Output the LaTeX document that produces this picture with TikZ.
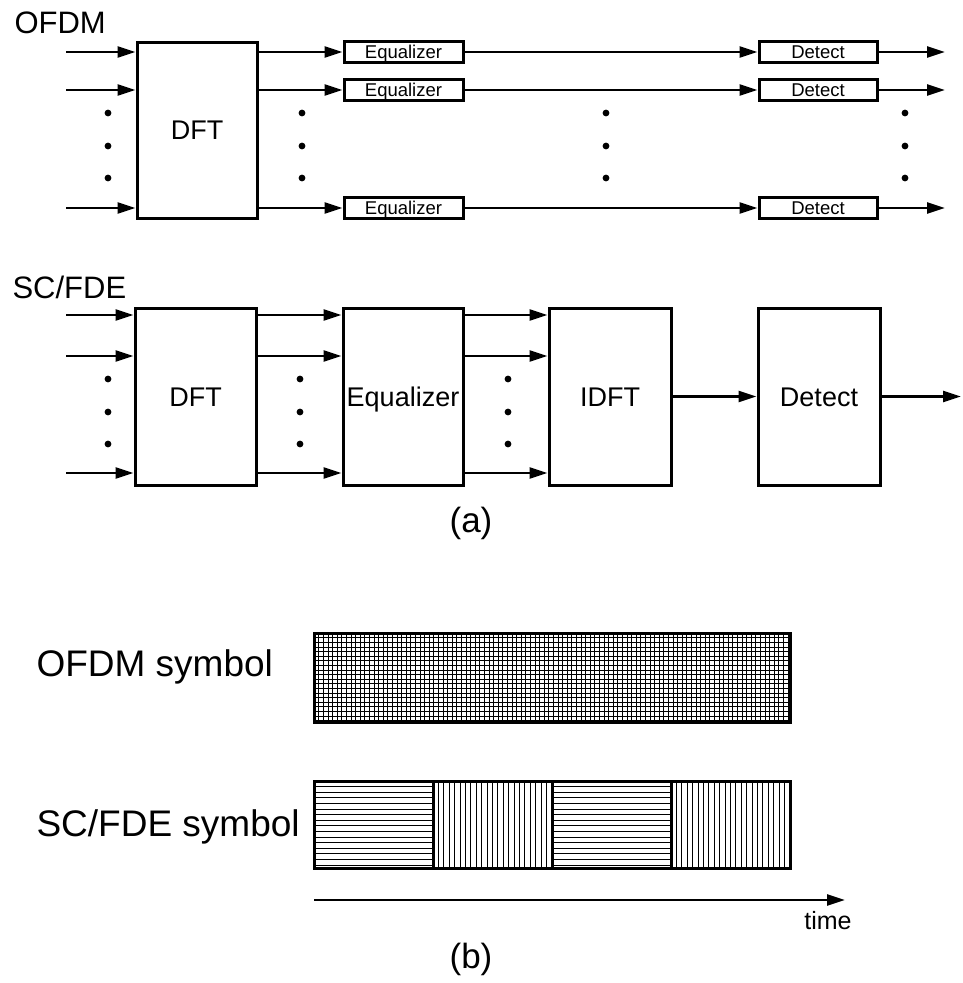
\documentclass[tikz,border=0pt]{standalone}
\usepackage{fontspec}
\setmainfont{Liberation Sans}
\usetikzlibrary{arrows.meta}

\begin{document}
\begin{tikzpicture}[x=1pt, y=-1pt]
  \tikzset{
    block/.style={draw, line width=3pt, inner sep=0pt,
      minimum width=120pt, minimum height=177pt,
      text height=19.3pt, text depth=0pt, font=\fontsize{27}{32}\selectfont},
    tag/.style={draw, line width=3pt, inner sep=0pt,
      minimum width=119pt, minimum height=21pt,
      text height=13.2pt, text depth=0pt, font=\fontsize{18.5}{22}\selectfont},
    sig/.style={line width=2.5pt, -{Triangle[length=18pt, width=11pt]}},
    title/.style={anchor=base west, font=\fontsize{31}{36}\selectfont},
    caption/.style={anchor=base, font=\fontsize{35}{40}\selectfont},
    legend/.style={anchor=base west, font=\fontsize{37}{42}\selectfont},
    symbol/.style={draw, line width=3pt, inner sep=0pt, minimum height=87pt},
    hzl/.style={path picture={
        \foreach \k in {1,...,16}
          \draw[line width=0.7pt]
            ([yshift=-\k*5.6pt]path picture bounding box.north west) --
            ([yshift=-\k*5.6pt]path picture bounding box.north east);
      }},
    vtl/.style={path picture={
        \foreach \k in {1,...,22}
          \draw[line width=0.7pt]
            ([xshift=\k*5.4pt]path picture bounding box.north west) --
            ([xshift=\k*5.4pt]path picture bounding box.south west);
      }},
    grid/.style={path picture={
        \foreach \k in {1,...,19}
          \draw[line width=0.6pt]
            ([yshift=-\k*4.6pt]path picture bounding box.north west) --
            ([yshift=-\k*4.6pt]path picture bounding box.north east);
        \foreach \k in {1,...,103}
          \draw[line width=0.6pt]
            ([xshift=\k*4.6pt]path picture bounding box.north west) --
            ([xshift=\k*4.6pt]path picture bounding box.south west);
      }},
  }
  \useasboundingbox (0,0) rectangle (962,983);

  \node[title] (ofdm) at (11,33) {OFDM};
  \node[block, minimum height=176pt] (dft) at (197,130) {DFT};
  \foreach \i/\y in {1/52, 2/90, 3/208} {
    \node[tag] (eq-\i) at (403.5,\y) {Equalizer};
    \node[tag, minimum width=118pt] (det-\i) at (818,\y) {Detect};
    \coordinate (in-\i) at (66,\y);
    \coordinate (out-\i) at (945,\y);
    \draw[sig] (in-\i) -- (in-\i -| dft.west);
    \draw[sig] (eq-\i -| dft.east) -- (eq-\i.west);
    \draw[sig] (eq-\i) -- (det-\i);
    \draw[sig] (det-\i) -- (out-\i);
  }
  \fill foreach \x in {108,302,606,905} { foreach \y in {113,146,178} {
      (\x,\y) circle (3.4pt) } };

  \node[title] (scfde) at (9,298) {SC/FDE};
  \node[block, minimum width=121pt] (dft2) at (195.5,396.5) {DFT};
  \node[block] (eq) at (403,396.5) {Equalizer};
  \node[block, minimum width=122pt] (idft) at (610,396.5) {IDFT};
  \node[block, minimum width=122pt] (det) at (819,396.5) {Detect};
  \foreach \i/\y in {1/315, 2/356, 3/473} {
    \coordinate (sin-\i) at (66,\y);
    \draw[sig] (sin-\i) -- (sin-\i -| dft2.west);
    \draw[sig] (sin-\i -| dft2.east) -- (sin-\i -| eq.west);
    \draw[sig] (sin-\i -| eq.east) -- (sin-\i -| idft.west);
  }
  \coordinate (sout) at (961,396.5);
  \draw[sig] (idft) -- (det);
  \draw[sig] (det) -- (sout);
  \fill foreach \x in {108,300,508} { foreach \y in {379,412,444} {
      (\x,\y) circle (3.4pt) } };

  \node[caption] (cap-a) at (471,532) {(a)};

  \node[legend] (ofdm-lbl) at (33,676) {OFDM symbol};
  \node[symbol, minimum width=476pt, minimum height=89pt, grid] (ofdm-sym) at (552,677.5) {};

  \node[legend] (scfde-lbl) at (33,836) {SC/FDE symbol};
  \foreach \i/\x/\fillstyle in {1/373.5/hzl, 2/492.5/vtl, 3/611.5/hzl, 4/730.5/vtl}
    \node[symbol, minimum width=119pt, \fillstyle] (blk-\i) at (\x,824.5) {};

  \coordinate (t-start) at (314,900);
  \coordinate (t-end) at (845,900);
  \draw[sig] (t-start) -- (t-end);
  \node[anchor=base, font=\fontsize{25}{29}\selectfont] (time) at (828,929) {time};

  \node[caption] (cap-b) at (471,968) {(b)};
\end{tikzpicture}
\end{document}
